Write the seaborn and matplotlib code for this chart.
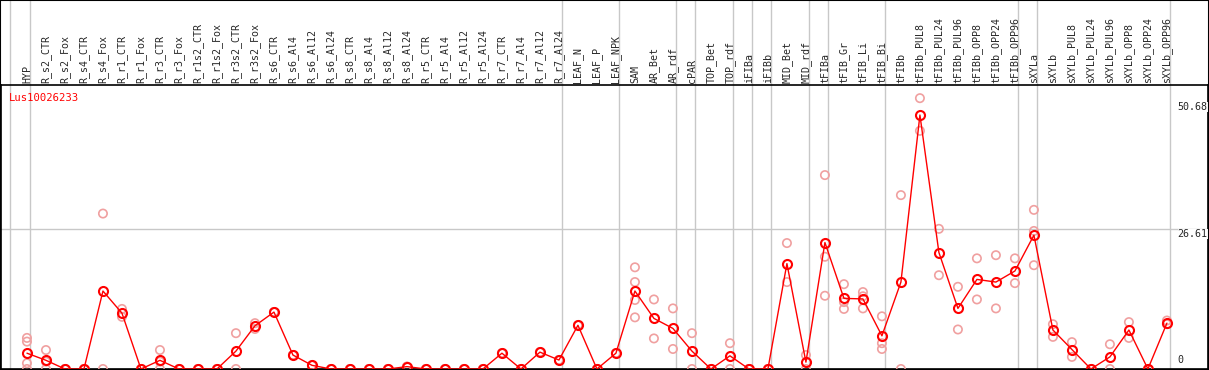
import numpy as np
import pandas as pd
import seaborn as sns
import matplotlib.pyplot as plt
import matplotlib.transforms as mtransforms
from matplotlib.markers import MarkerStyle

# Sample names shown along the top
samples = ['HYP', 'R_s2_CTR', 'R_s2_Fox', 'R_s4_CTR', 'R_s4_Fox', 'R_r1_CTR', 'R_r1_Fox',
           'R_r3_CTR', 'R_r3_Fox', 'R_r1s2_CTR', 'R_r1s2_Fox', 'R_r3s2_CTR', 'R_r3s2_Fox',
           'R_s6_CTR', 'R_s6_Al4', 'R_s6_Al12', 'R_s6_Al24', 'R_s8_CTR', 'R_s8_Al4',
           'R_s8_Al12', 'R_s8_Al24', 'R_r5_CTR', 'R_r5_Al4', 'R_r5_Al12', 'R_r5_Al24',
           'R_r7_CTR', 'R_r7_Al4', 'R_r7_Al12', 'R_r7_Al24', 'LEAF_N', 'LEAF_P', 'LEAF_NPK',
           'SAM', 'AR_Bet', 'AR_rdf', 'cPAR', 'TOP_Bet', 'TOP_rdf', 'iFIBa', 'iFIBb',
           'MID_Bet', 'MID_rdf', 'tFIBa', 'tFIB_Gr', 'tFIB_Li', 'tFIB_Bi', 'tFIBb',
           'tFIBb_PUL8', 'tFIBb_PUL24', 'tFIBb_PUL96', 'tFIBb_OPP8', 'tFIBb_OPP24',
           'tFIBb_OPP96', 'sXYLa', 'sXYLb', 'sXYLb_PUL8', 'sXYLb_PUL24', 'sXYLb_PUL96',
           'sXYLb_OPP8', 'sXYLb_OPP24', 'sXYLb_OPP96']

# Mean expression per sample (red line)
mean_values = [3.0, 1.65, 0, 0, 14.8, 10.6, 0, 1.65, 0, 0, 0, 3.4, 8.2, 10.8, 2.65, 0.7,
               0, 0, 0, 0, 0.45, 0, 0, 0, 0, 3.0, 0, 3.2, 1.7, 8.3, 0, 3.0,
               14.8, 9.6, 7.7, 3.4, 0, 2.5, 0, 0, 20.0, 1.3, 24.0, 13.4, 13.3, 6.3, 16.5,
               48.2, 22.1, 11.5, 17.0, 16.5, 18.6, 25.4, 7.4, 3.7, 0, 2.3, 7.4, 0, 8.7]

# Individual replicates (pink circles)
replicates = [[5.9, 5.2, 1.1, 0], [3.6, 1.4, 0], [0, 0], [0, 0], [29.5, 0], [11.4, 9.9],
              [0, 0], [3.6, 1.4, 0], [0, 0], [0, 0], [0, 0], [6.8, 0], [8.7, 7.6],
              [10.8, 10.8], [2.65, 2.65], [0.7, 0.7], [0, 0], [0, 0], [0, 0], [0, 0],
              [0.45, 0.45], [0, 0], [0, 0], [0, 0], [0, 0], [3.0, 3.0], [0, 0], [3.2, 3.2],
              [1.7, 1.7], [8.3, 8.3], [0, 0], [3.0, 3.0],
              [19.3, 16.5, 13.1, 9.8], [13.2, 5.8], [11.5, 3.8], [6.8, 0], [0, 0], [4.9, 0],
              [0, 0], [0, 0], [23.9, 16.5], [2.65, 0], [36.8, 21.3, 13.9], [16.1, 12.7, 11.4],
              [14.6, 13.8, 11.5], [10.0, 4.9, 3.8], [33.0, 0],
              [51.4, 45.2], [26.6, 17.8], [15.6, 7.5], [21.0, 13.2], [21.6, 11.5], [21.0, 16.3],
              [30.2, 26.2, 19.7], [8.5, 6.1], [5.1, 2.3], [0, 0], [4.7, 0], [8.9, 5.9], [0, 0],
              [9.2, 8.5]]

y_ticks = [0, 26.61, 50.68]
gene_id = 'Lus10026233'
# last sample index of each tissue group (grey separators)
group_ends = [-1.08, 0, 28, 31, 34, 35, 37, 38, 39, 41, 42, 45, 52, 53, 60]

mean_df = pd.DataFrame({'pos': np.arange(len(samples)), 'value': mean_values})
rep_df = pd.DataFrame([(i, v) for i, vals in enumerate(replicates) for v in vals],
                      columns=['pos', 'value'])

sns.set_style('white')
plt.rcParams['font.family'] = ['DejaVu Sans Mono']

fig = plt.figure(figsize=(12.09, 3.70), dpi=100)
ax = fig.add_axes([0.0008, 0.0027, 0.9983, 0.7676])

# separators run through the label band too
for e in group_ends:
    ax.axvline(e + 0.18, ymin=0, ymax=370 / 284, clip_on=False,
               color='#c8c8c8', lw=1, zorder=0)
ax.axhline(y_ticks[1], color='#c8c8c8', lw=1, zorder=0)

sns.scatterplot(data=rep_df, x='pos', y='value', marker=MarkerStyle('o', fillstyle='none'),
                color='#f0a0a0', s=36, linewidth=1.2, ax=ax, zorder=3)
sns.lineplot(data=mean_df, x='pos', y='value', color='red', lw=1, marker='o',
             markersize=6.5, markerfacecolor='none', markeredgecolor='red',
             markeredgewidth=1.5, errorbar=None, ax=ax, zorder=4)

ax.set_xlim(-1.368, 62.158)
ax.set_ylim(0, 53.9)

ax.xaxis.tick_top()
ax.set_xticks(range(len(samples)))
ax.set_xticklabels(samples, rotation=90, fontsize=7.2)
ax.tick_params(axis='x', length=0, pad=1.5)
ax.set_yticks([])
ax.set_xlabel('')
ax.set_ylabel('')
for s in ax.spines.values():
    s.set_color('black')
    s.set_linewidth(1.2)

# value labels inside on the right
trans = mtransforms.blended_transform_factory(ax.transAxes, ax.transData)
ax.text(0.975, y_ticks[2], '50.68', transform=trans, ha='left', va='top', fontsize=7.2,
        bbox=dict(facecolor='white', edgecolor='none', pad=0))
ax.text(0.975, y_ticks[1], '26.61', transform=trans, ha='left', va='top', fontsize=7.2,
        bbox=dict(facecolor='white', edgecolor='none', pad=0))
ax.text(0.975, 0.7, '0', transform=trans, ha='left', va='bottom', fontsize=7.2)

ax.text(0.0069, 0.972, gene_id, transform=ax.transAxes, ha='left', va='top',
        color='red', fontsize=7.6)

fig.add_artist(plt.Rectangle((0, 0), 1, 1, transform=fig.transFigure, fill=False,
                             edgecolor='black', lw=1.5))

fig.savefig('out.png', dpi=100)
